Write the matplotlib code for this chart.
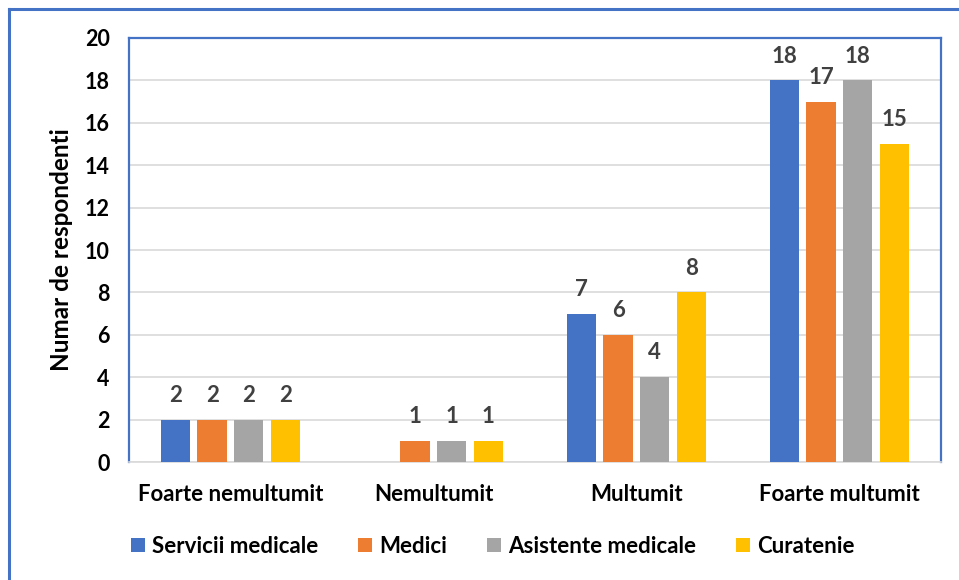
import numpy as np
import matplotlib.pyplot as plt
from matplotlib.lines import Line2D

categories = ['Foarte nemultumit', 'Nemultumit', 'Multumit', 'Foarte multumit']
series_names = ['Servicii medicale', 'Medici', 'Asistente medicale', 'Curatenie']
servicii = [2, 0, 7, 18]
medici = [2, 1, 6, 17]
asistente = [2, 1, 4, 18]
curatenie = [2, 1, 8, 15]
colors = ['#4472C4', '#ED7D31', '#A5A5A5', '#FFC000']

plt.rcParams['font.family'] = ['Lato', 'DejaVu Sans']

fig = plt.figure(figsize=(9.59, 5.8), dpi=100)
ax = fig.add_axes([0.1345, 0.2034, 0.8467, 0.7311])

x = np.arange(len(categories))
pitch = 0.18
width = 0.145
all_series = [servicii, medici, asistente, curatenie]
for i, (vals, name, c) in enumerate(zip(all_series, series_names, colors)):
    pos = x + (i - 1.5) * pitch
    bars = ax.bar(pos, vals, width, color=c, label=name, zorder=3)
    for b, v in zip(bars, vals):
        if v > 0:
            ax.annotate(f'{v}', xy=(b.get_x() + b.get_width() / 2, v),
                        xytext=(0, 10), textcoords='offset points',
                        ha='center', va='bottom', fontsize=16,
                        fontweight='bold', color='#404040')

ax.set_xlim(-0.5, 3.5)
ax.set_ylim(0, 20)
ax.set_yticks(range(0, 21, 2))
ax.set_xticks(x)
ax.set_xticklabels(categories)
ax.tick_params(axis='both', length=0)
ax.tick_params(axis='x', pad=16, labelsize=16)
ax.tick_params(axis='y', pad=14, labelsize=15.5)
for lab in ax.get_xticklabels() + ax.get_yticklabels():
    lab.set_fontweight('bold')
ax.set_ylabel('Numar de respondenti', fontsize=17.5, fontweight='bold', labelpad=8)
ax.grid(axis='y', color='#D9D9D9', linewidth=1.2, zorder=0)

for s in ['top', 'left', 'right']:
    ax.spines[s].set_color('#4472C4')
    ax.spines[s].set_linewidth(1.6)
ax.spines['bottom'].set_color('#D9D9D9')
ax.spines['bottom'].set_linewidth(1.2)

# outer frame (top and left edges)
fig.add_artist(Line2D([0.0095, 1.0], [0.984, 0.984], color='#4472C4', linewidth=2.2))
fig.add_artist(Line2D([0.0095, 0.0095], [0.0, 0.984], color='#4472C4', linewidth=2.2))

ax.legend(loc='center', bbox_to_anchor=(0.5136, 0.058), bbox_transform=fig.transFigure,
          ncol=4, frameon=False, prop={'size': 16, 'weight': 'bold'},
          handlelength=0.65, handleheight=0.65, handletextpad=0.3, columnspacing=1.8)

plt.savefig('out.png', dpi=100)
